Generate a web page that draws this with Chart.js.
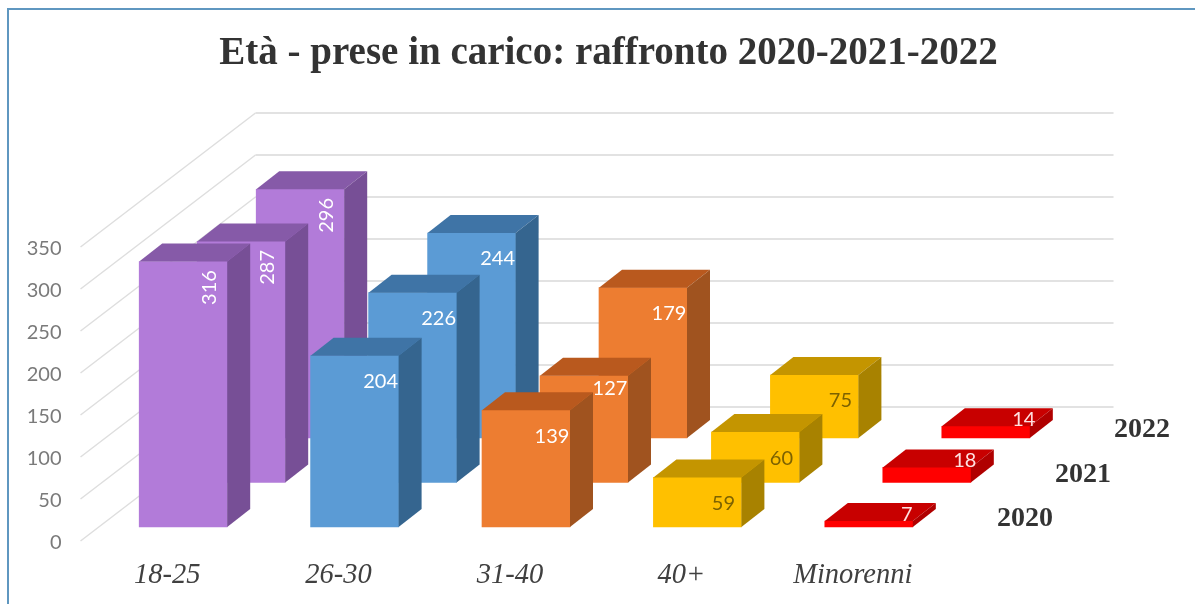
<!DOCTYPE html>
<html lang="it">
<head>
<meta charset="utf-8">
<title>Età - prese in carico</title>
<script src="https://cdn.jsdelivr.net/npm/chart.js@4/dist/chart.umd.min.js"></script>
<style>
  html, body { margin: 0; padding: 0; background: #ffffff; overflow: hidden; }
  .chart-wrap { position: relative; width: 1195px; height: 604px; }
  .chart-wrap canvas { display: block; }
  .chart-frame { position: absolute; left: 7px; top: 8px; right: 0; bottom: 0; border-top: 2px solid #5f97c0; border-left: 2px solid #5f97c0; pointer-events: none; }
</style>
</head>
<body>
<div class="chart-wrap">
  <canvas id="eta-chart" width="1195" height="604"></canvas>
  <div class="chart-frame"></div>
</div>
<script>
// Values
var categories = ['18-25', '26-30', '31-40', '40+', 'Minorenni'];
var years = ['2020', '2021', '2022'];
var values2020 = [316, 204, 139, 59, 7];
var values2021 = [287, 226, 127, 60, 18];
var values2022 = [296, 244, 179, 75, 14];

// One colour per category: front, top and side face
var frontColors = ['#b27bd9', '#5b9bd5', '#ed7d31', '#ffc000', '#ff0000'];
var topColors = ['#865aa8', '#3f74a6', '#b9591e', '#c49500', '#c80000'];
var sideColors = ['#774f96', '#35658f', '#a0531f', '#a88200', '#b00000'];
var labelColors = ['#ffffff', '#ffffff', '#ffffff', '#7d6200', '#ffe0e0'];

// Fake 3D: each year row is moved back by this much, each bar gets this depth
var rowShiftX = [16, 74, 133];
var rowShiftY = [-14, -58.5, -103];
var barDepthX = 23;
var barDepthY = 18;
var wallShiftX = 175;
var wallShiftY = -134;

function drawFace(ctx, color, points) {
  ctx.fillStyle = color;
  ctx.beginPath();
  ctx.moveTo(points[0], points[1]);
  ctx.lineTo(points[2], points[3]);
  ctx.lineTo(points[4], points[5]);
  ctx.lineTo(points[6], points[7]);
  ctx.closePath();
  ctx.fill();
}

function drawValueLabel(ctx, bar, value, index) {
  var right = bar.x + bar.width / 2;
  var x = right - 18;
  var y = bar.y + 26;
  // the thin red slabs carry the number on their top face
  if (value < 50) {
    x = right - 6;
    y = bar.y - 7;
  }
  // Excel had moved this one up by hand
  if (value === 127) y = bar.y + 13;

  ctx.save();
  ctx.fillStyle = labelColors[index];
  ctx.font = '20px Lato';
  ctx.textAlign = 'center';
  ctx.textBaseline = 'middle';
  ctx.translate(x, y);
  if (index === 0) ctx.rotate(-Math.PI / 2);
  ctx.fillText(String(value), 0, 0);
  ctx.restore();
}

var wallPlugin = {
  id: 'wall3d',
  beforeDatasetsDraw: function(chart) {
    var ctx = chart.ctx;
    var yScale = chart.scales.y;
    var left = chart.chartArea.left - 1;
    var right = chart.chartArea.right + wallShiftX;
    ctx.save();
    yScale.ticks.forEach(function(tick) {
      var y = yScale.getPixelForValue(tick.value);
      ctx.strokeStyle = '#dedede';
      ctx.lineWidth = 1.5;
      ctx.beginPath();
      ctx.moveTo(left, y);
      ctx.lineTo(left + wallShiftX, y + wallShiftY);
      ctx.stroke();
      ctx.strokeStyle = '#e2e2e2';
      ctx.lineWidth = 2;
      ctx.beginPath();
      ctx.moveTo(left + wallShiftX, y + wallShiftY);
      ctx.lineTo(right, y + wallShiftY);
      ctx.stroke();
    });
    ctx.restore();
  }
};

var barPlugin = {
  id: 'bars3d',
  beforeDatasetDraw: function(chart, args) {
    chart.ctx.save();
    chart.ctx.translate(rowShiftX[args.index], rowShiftY[args.index]);
  },
  afterDatasetDraw: function(chart, args) {
    var ctx = chart.ctx;
    var dataset = chart.data.datasets[args.index];
    args.meta.data.forEach(function(bar, i) {
      var left = bar.x - bar.width / 2;
      var right = bar.x + bar.width / 2;
      drawFace(ctx, topColors[i], [left, bar.y, right, bar.y, right + barDepthX, bar.y - barDepthY, left + barDepthX, bar.y - barDepthY]);
      drawFace(ctx, sideColors[i], [right, bar.y, right + barDepthX, bar.y - barDepthY, right + barDepthX, bar.base - barDepthY, right, bar.base]);
      drawValueLabel(ctx, bar, dataset.data[i], i);
    });

    // year name at the end of the row
    ctx.fillStyle = '#333333';
    ctx.font = 'bold 28px "Liberation Serif"';
    ctx.textAlign = 'center';
    ctx.textBaseline = 'middle';
    ctx.fillText(dataset.label, chart.chartArea.right + 70.5, chart.chartArea.bottom - 8);
    ctx.restore();
  }
};

function makeDataset(index, data) {
  return {
    label: years[index],
    data: data,
    backgroundColor: frontColors,
    borderWidth: 0,
    barThickness: 88,
    grouped: false,
    clip: false
  };
}

new Chart(document.getElementById('eta-chart').getContext('2d'), {
  type: 'bar',
  data: {
    labels: categories,
    datasets: [makeDataset(0, values2020), makeDataset(1, values2021), makeDataset(2, values2022)]
  },
  options: {
    responsive: false,
    animation: false,
    devicePixelRatio: 1,
    layout: { autoPadding: false, padding: { left: 22, right: 0, top: 0, bottom: 0 } },
    plugins: {
      legend: { display: false },
      tooltip: { enabled: false },
      title: {
        display: true,
        text: 'Età - prese in carico: raffronto 2020-2021-2022',
        color: '#333333',
        font: { family: '"Liberation Serif"', size: 39, weight: 'bold', lineHeight: 1.2 },
        padding: { top: 31, bottom: 169.2 }
      }
    },
    scales: {
      x: {
        grid: { display: false },
        border: { display: false },
        ticks: {
          autoSkip: false,
          maxRotation: 0,
          padding: 9,
          color: '#404040',
          font: { family: '"Liberation Serif"', size: 28.5, style: 'italic', lineHeight: 1.2 }
        },
        afterFit: function(scale) { scale.height = 63; }
      },
      y: {
        min: 0,
        max: 350,
        grid: { display: false, drawTicks: false },
        border: { display: false },
        ticks: {
          stepSize: 50,
          padding: 20,
          labelOffset: 1.5,
          color: '#7a7a7a',
          font: { family: 'Lato', size: 20 }
        },
        afterFit: function(scale) { scale.width = 59.5; }
      },
      // empty axis, only keeps the room right of the plot for the back wall
      spacer: {
        type: 'linear',
        position: 'right',
        grid: { display: false },
        border: { display: false },
        ticks: { display: false },
        afterFit: function(scale) { scale.width = 256.5; }
      }
    }
  },
  plugins: [wallPlugin, barPlugin]
});
</script>
</body>
</html>
